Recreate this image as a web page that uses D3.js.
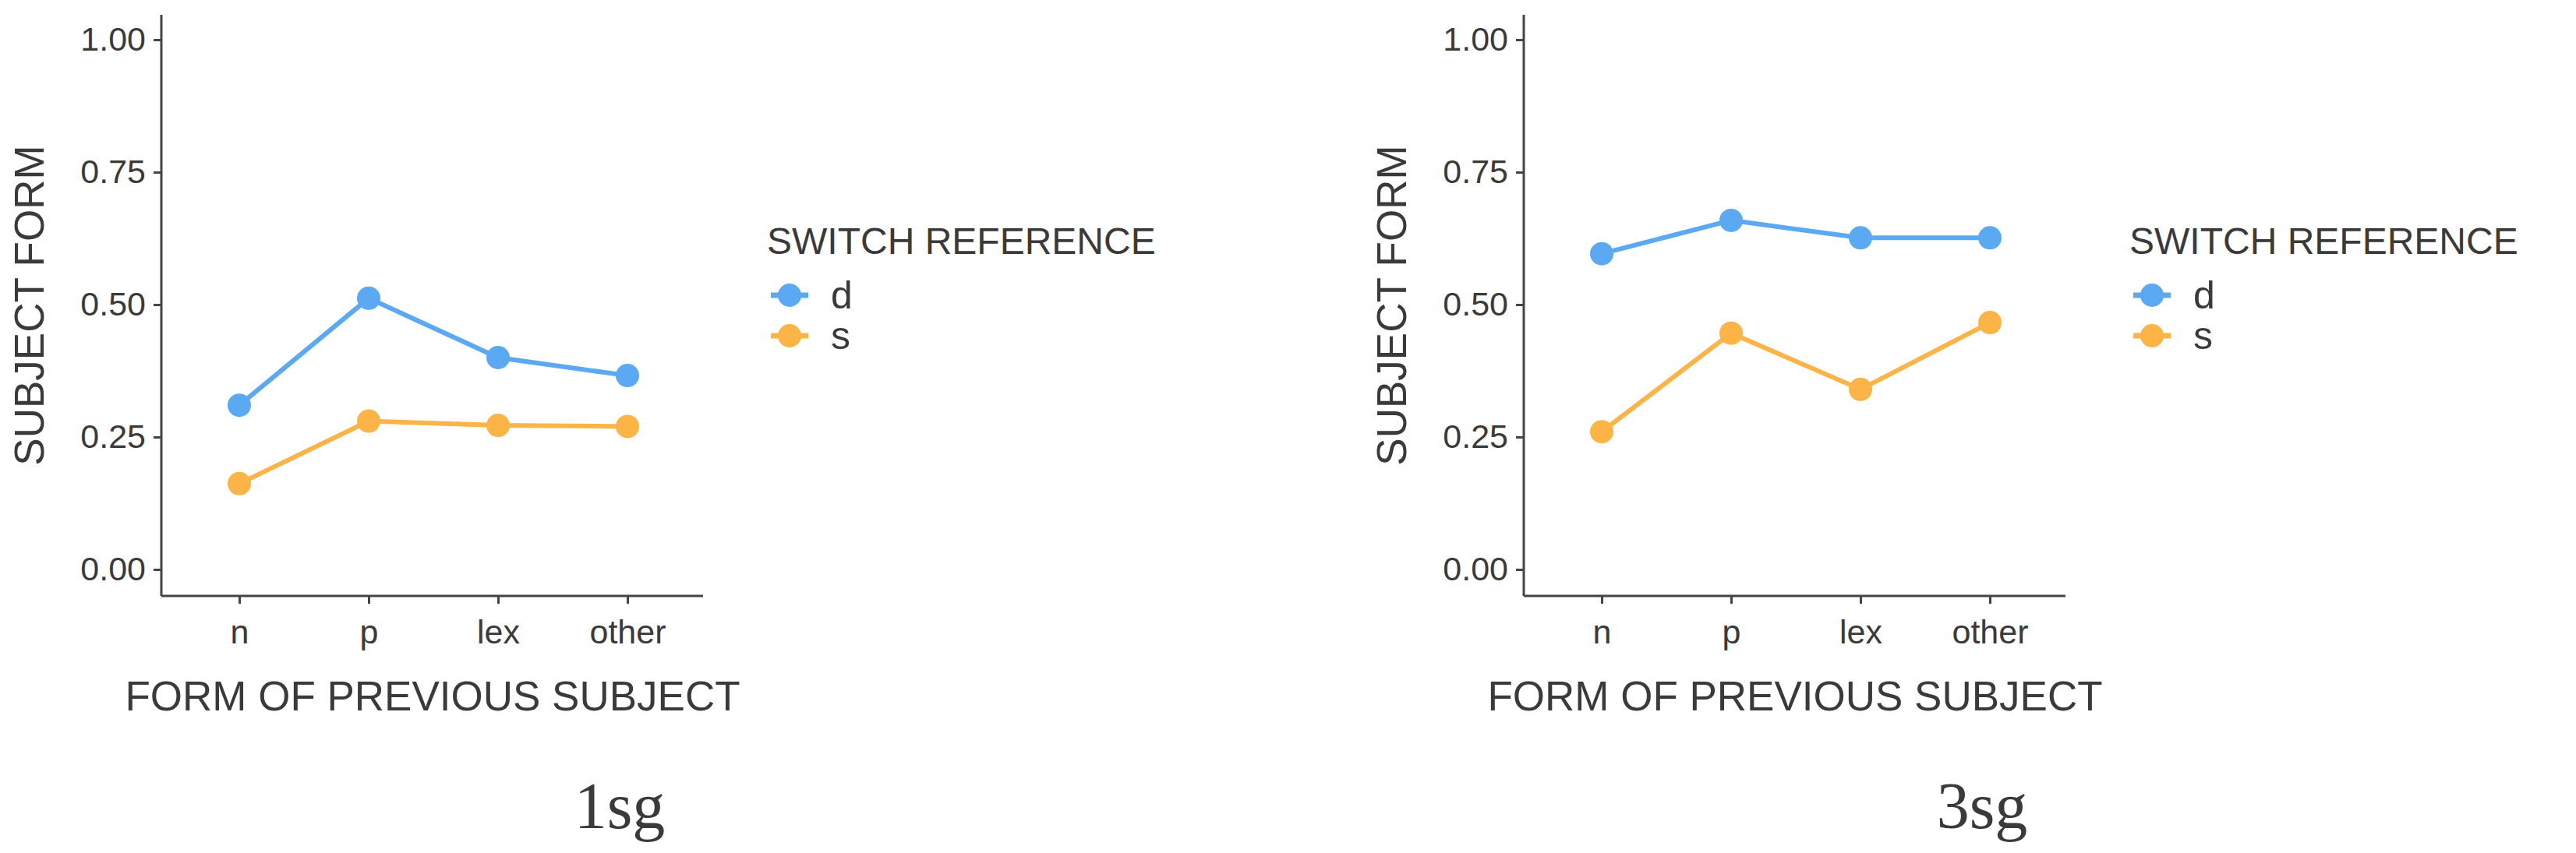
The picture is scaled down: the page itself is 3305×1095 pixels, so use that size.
<!DOCTYPE html>
<html>
<head>
<meta charset="utf-8">
<script src="https://cdn.jsdelivr.net/npm/d3@7"></script>
<style>
  body { margin: 0; background: #fff; }
  text { font-family: "Liberation Sans", Arial, sans-serif; fill: #3a3a3a; }
</style>
</head>
<body>
<div id="chart"></div>
<script>
// data
const categories = ["n", "p", "lex", "other"];
const groups = ["d", "s"];
const yTicks = [0, 0.25, 0.5, 0.75, 1];
const panelNames = ["1sg", "3sg"];
const sg1_d = [0.31, 0.512, 0.40, 0.366];
const sg1_s = [0.162, 0.28, 0.272, 0.27];
const sg3_d = [0.596, 0.659, 0.626, 0.626];
const sg3_s = [0.26, 0.446, 0.34, 0.466];
const panelData = [[sg1_d, sg1_s], [sg3_d, sg3_s]];

const colors = { d: "#5aa9f2", s: "#fdb446" };

const svg = d3.select("#chart").append("svg")
  .attr("width", 3305).attr("height", 1095);

const panelOffsets = [0, 1748];

panelData.forEach((series, pi) => {
  const g = svg.append("g").attr("transform", `translate(${panelOffsets[pi]},0)`);
  const left = 207, right = 902, top = 19, bottom = 765;

  const x = d3.scalePoint().domain(categories).range([307, 805]);
  const y = d3.scaleLinear().domain([0, 1]).range([731, 51]);

  // axes
  const yAxis = g.append("g").attr("transform", `translate(${left},0)`)
    .call(d3.axisLeft(y).tickValues(yTicks).tickFormat(d3.format(".2f")).tickSize(10).tickPadding(10));
  yAxis.select(".domain").remove();
  g.append("line").attr("x1", left).attr("x2", left).attr("y1", top).attr("y2", bottom)
    .attr("stroke", "#444").attr("stroke-width", 3);

  const xAxis = g.append("g").attr("transform", `translate(0,${bottom})`)
    .call(d3.axisBottom(x).tickSize(10).tickPadding(20));
  xAxis.select(".domain").remove();
  g.append("line").attr("x1", left).attr("x2", right).attr("y1", bottom).attr("y2", bottom)
    .attr("stroke", "#444").attr("stroke-width", 3);

  g.selectAll(".tick line").attr("stroke", "#444").attr("stroke-width", 3);
  g.selectAll(".tick text").style("font-size", "43px").attr("fill", "#3a3a3a");

  g.append("text").attr("x", 555).attr("y", 912).attr("text-anchor", "middle")
    .style("font-size", "53px").text("FORM OF PREVIOUS SUBJECT");
  g.append("text").attr("transform", "translate(56,392) rotate(-90)").attr("text-anchor", "middle")
    .style("font-size", "53px").text("SUBJECT FORM");

  // lines + points
  const line = d3.line().x((d, i) => x(categories[i])).y(d => y(d));
  series.forEach((vals, si) => {
    const c = colors[groups[si]];
    g.append("path").datum(vals).attr("d", line).attr("fill", "none")
      .attr("stroke", c).attr("stroke-width", 6);
    g.selectAll(null).data(vals).join("circle")
      .attr("cx", (d, i) => x(categories[i])).attr("cy", d => y(d))
      .attr("r", 15).attr("fill", c);
  });

  // legend
  const lg = g.append("g");
  lg.append("text").attr("x", 984).attr("y", 326).style("font-size", "48px").text("SWITCH REFERENCE");
  groups.forEach((k, i) => {
    const cy = 379 + i * 52;
    lg.append("line").attr("x1", 989).attr("x2", 1037).attr("y1", cy).attr("y2", cy)
      .attr("stroke", colors[k]).attr("stroke-width", 7);
    lg.append("circle").attr("cx", 1013).attr("cy", cy).attr("r", 15).attr("fill", colors[k]);
    lg.append("text").attr("x", 1066).attr("y", cy + 17).style("font-size", "50px").text(k);
  });

  g.append("text").attr("x", 795).attr("y", 1063).attr("text-anchor", "middle")
    .style("font-family", "'Liberation Serif', 'Times New Roman', serif").style("font-size", "84px")
    .attr("fill", "#111").text(panelNames[pi]);
});
</script>
</body>
</html>
